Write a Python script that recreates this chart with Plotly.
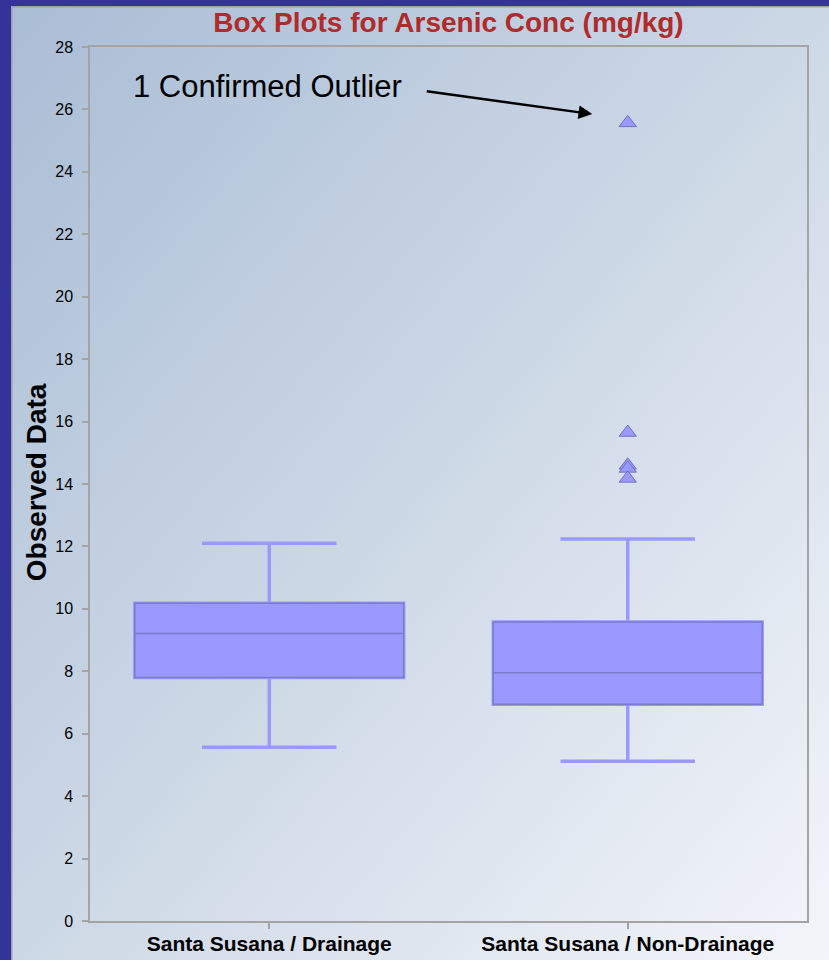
import base64
import plotly.graph_objects as go

# ---- data ----
categories = ["Santa Susana / Drainage", "Santa Susana / Non-Drainage"]
q1_vals = [7.80, 6.94]
median_vals = [9.21, 7.95]
q3_vals = [10.18, 9.58]
lower_whisker = [5.57, 5.12]
upper_whisker = [12.10, 12.24]
outlier_cat = ["Santa Susana / Non-Drainage"] * 5
outlier_vals = [25.57, 15.65, 14.60, 14.50, 14.18]
y_ticks = list(range(0, 29, 2))

FONT = "Liberation Sans, Arial, sans-serif"
LIGHT = "#9999ff"
EDGE = "#7b7bcc"

fig = go.Figure()

# whiskers (light, thick)
fig.add_trace(go.Box(
    x=categories, q1=q1_vals, median=median_vals, q3=q3_vals,
    lowerfence=lower_whisker, upperfence=upper_whisker,
    width=0.75, whiskerwidth=0.5, boxpoints=False,
    line=dict(color=LIGHT, width=3.5), fillcolor=LIGHT,
    showlegend=False, hoverinfo="skip"))

# box body with darker outline & median
fig.add_trace(go.Box(
    x=categories, q1=q1_vals, median=median_vals, q3=q3_vals,
    lowerfence=q1_vals, upperfence=q3_vals,
    width=0.75, whiskerwidth=0, boxpoints=False,
    line=dict(color=EDGE, width=1.5), fillcolor=LIGHT,
    showlegend=False))

# outliers
fig.add_trace(go.Scatter(
    x=outlier_cat, y=outlier_vals, mode="markers",
    marker=dict(symbol="triangle-up", size=15, color=LIGHT,
                line=dict(color="#7070c0", width=1)),
    showlegend=False))

# gradient background as svg image
W, H = 818, 954
svg = f'''<svg xmlns="http://www.w3.org/2000/svg" width="{W}" height="{H}" viewBox="0 0 {W} {H}" preserveAspectRatio="none">
<defs><linearGradient id="g" x1="0" y1="0" x2="1" y2="1">
<stop offset="0" stop-color="#a9bdd5"/><stop offset="0.5" stop-color="#cdd8e6"/><stop offset="1" stop-color="#f3f5fa"/>
</linearGradient></defs>
<rect x="0" y="0" width="{W}" height="{H}" fill="url(#g)"/>
<line x1="0.75" y1="0" x2="0.75" y2="{H}" stroke="#9d9db0" stroke-width="1.5"/>
<line x1="0" y1="0.75" x2="{W}" y2="0.75" stroke="#9d9db0" stroke-width="1.5"/>
</svg>'''
src = "data:image/svg+xml;base64," + base64.b64encode(svg.encode()).decode()

L, R, T, B = 90, 22, 47, 39
pw, ph = 829 - L - R, 960 - T - B
fig.add_layout_image(dict(
    source=src, xref="paper", yref="paper",
    x=(11 - L) / pw, y=(960 - B - 6) / ph,
    sizex=(829 - 11) / pw, sizey=(960 - 6) / ph,
    xanchor="left", yanchor="top", sizing="stretch", layer="below"))

# annotations
fig.add_annotation(x=-0.006, y=26.72, xref="x", yref="y",
                   text="1 Confirmed Outlier", showarrow=False,
                   font=dict(family=FONT, size=31, color="black"),
                   xanchor="center", yanchor="middle")
fig.add_annotation(x=0.901, y=25.85, xref="x", yref="y", text="",
                   showarrow=True, ax=-167, ay=-23, arrowhead=2,
                   arrowsize=1.1, arrowwidth=2.5, arrowcolor="black",
                   standoff=0)
fig.add_annotation(x=(36 - L) / pw, y=0.502, xref="paper", yref="paper",
                   text="<b>Observed Data</b>", showarrow=False, textangle=-90,
                   font=dict(family=FONT, size=28, color="black"),
                   xanchor="center", yanchor="middle")

fig.update_layout(
    margin=dict(l=L, r=R, t=T, b=B, pad=0, autoexpand=False),
    paper_bgcolor="#333399", plot_bgcolor="rgba(0,0,0,0)",
    boxmode="overlay",
    title=dict(text="<b>Box Plots for Arsenic Conc (mg/kg)</b>",
               x=0.5, xref="paper", y=1 - 22 / 960, yref="container",
               xanchor="center", yanchor="middle", automargin=False,
               font=dict(family=FONT, size=28, color="#b02c2c")),
    xaxis=dict(type="category", categoryorder="array", categoryarray=categories,
               range=[-0.5, 1.5], showgrid=False, zeroline=False, automargin=False,
               showline=True, linecolor="#a4a4a4", linewidth=1.5, mirror=True,
               ticks="outside", ticklen=6, tickcolor="#a4a4a4", tickwidth=1.5,
               tickfont=dict(family=FONT, size=21, color="black"),
               ticklabelstandoff=-3,
               tickvals=categories, ticktext=[f"<b>{c}</b>" for c in categories]),
    yaxis=dict(range=[0, 28], tickvals=y_ticks, showgrid=False, zeroline=False,
               automargin=False,
               showline=True, linecolor="#a4a4a4", linewidth=1.5, mirror=True,
               ticks="outside", ticklen=6, tickcolor="#a4a4a4", tickwidth=1.5,
               tickfont=dict(family=FONT, size=16, color="black"),
               ticklabelstandoff=6),
)

# fixed-position 829x960 container so the page is exactly the window size
fig.write_html(
    "out.html",
    default_width="829px",
    default_height="960px; position:fixed; top:0; left:0; margin:0",
    config={"displayModeBar": False},
)
